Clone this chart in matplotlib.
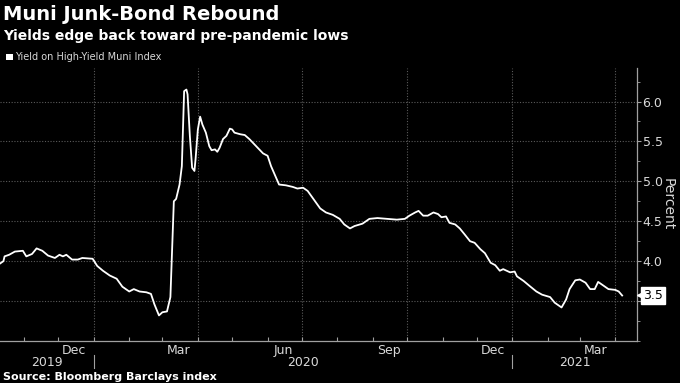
import matplotlib
matplotlib.use("Agg")
import matplotlib.pyplot as plt
import matplotlib.dates as mdates
import matplotlib.transforms as mtrans
import pandas as pd
from matplotlib.ticker import FixedLocator, MultipleLocator, NullFormatter, FuncFormatter

# Yield on High-Yield Muni Index, percent
dates = [
    "2019-10-11", "2019-10-14", "2019-10-15", "2019-10-19", "2019-10-24", "2019-10-31",
    "2019-11-03", "2019-11-08", "2019-11-12", "2019-11-17", "2019-11-22", "2019-11-28",
    "2019-12-02", "2019-12-05", "2019-12-08", "2019-12-13", "2019-12-18", "2019-12-22",
    "2019-12-31", "2020-01-04", "2020-01-09", "2020-01-15", "2020-01-21", "2020-01-26",
    "2020-02-01", "2020-02-05", "2020-02-10", "2020-02-16", "2020-02-20", "2020-02-23",
    "2020-02-27", "2020-03-01", "2020-03-05", "2020-03-08", "2020-03-11", "2020-03-13",
    "2020-03-16", "2020-03-18", "2020-03-20", "2020-03-22", "2020-03-23", "2020-03-25",
    "2020-03-27", "2020-03-29", "2020-03-30", "2020-04-01", "2020-04-03", "2020-04-05",
    "2020-04-08", "2020-04-11", "2020-04-13", "2020-04-16", "2020-04-18", "2020-04-20",
    "2020-04-23", "2020-04-26", "2020-04-29", "2020-05-01", "2020-05-03", "2020-05-08",
    "2020-05-12", "2020-05-16", "2020-05-22", "2020-05-28", "2020-06-01", "2020-06-04",
    "2020-06-07", "2020-06-11", "2020-06-17", "2020-06-23", "2020-06-27", "2020-07-02",
    "2020-07-06", "2020-07-11", "2020-07-17", "2020-07-22", "2020-07-28", "2020-08-03",
    "2020-08-07", "2020-08-12", "2020-08-16", "2020-08-23", "2020-08-29", "2020-09-05",
    "2020-09-13", "2020-09-22", "2020-09-29", "2020-10-03", "2020-10-08", "2020-10-11",
    "2020-10-15", "2020-10-19", "2020-10-24", "2020-10-28", "2020-10-31", "2020-11-04",
    "2020-11-07", "2020-11-12", "2020-11-16", "2020-11-20", "2020-11-25", "2020-11-29",
    "2020-12-04", "2020-12-08", "2020-12-13", "2020-12-17", "2020-12-21", "2020-12-24",
    "2020-12-30", "2021-01-03", "2021-01-05", "2021-01-11", "2021-01-16", "2021-01-22",
    "2021-01-27", "2021-02-03", "2021-02-07", "2021-02-13", "2021-02-17", "2021-02-20",
    "2021-02-25", "2021-03-01", "2021-03-06", "2021-03-10", "2021-03-14", "2021-03-17",
    "2021-03-22", "2021-03-26", "2021-04-01", "2021-04-04", "2021-04-07",
]
yields = [
    3.97, 4.00, 4.06, 4.08, 4.12, 4.13,
    4.06, 4.09, 4.16, 4.13, 4.07, 4.04,
    4.08, 4.06, 4.08, 4.02, 4.02, 4.04,
    4.03, 3.94, 3.88, 3.82, 3.78, 3.68,
    3.62, 3.65, 3.62, 3.61, 3.59, 3.46,
    3.32, 3.36, 3.37, 3.55, 4.75, 4.78,
    4.96, 5.19, 6.13, 6.15, 6.09, 5.57,
    5.17, 5.13, 5.28, 5.65, 5.81, 5.71,
    5.61, 5.44, 5.39, 5.40, 5.37, 5.42,
    5.53, 5.57, 5.66, 5.65, 5.61, 5.59,
    5.58, 5.53, 5.44, 5.35, 5.32, 5.19,
    5.09, 4.96, 4.95, 4.93, 4.91, 4.92,
    4.88, 4.78, 4.66, 4.61, 4.58, 4.53,
    4.46, 4.41, 4.44, 4.47, 4.53, 4.54,
    4.53, 4.52, 4.53, 4.57, 4.61, 4.63,
    4.57, 4.57, 4.61, 4.59, 4.55, 4.56,
    4.48, 4.46, 4.41, 4.34, 4.25, 4.23,
    4.15, 4.10, 3.98, 3.95, 3.88, 3.90,
    3.86, 3.87, 3.81, 3.75, 3.69, 3.62,
    3.58, 3.55, 3.48, 3.42, 3.52, 3.65,
    3.76, 3.77, 3.73, 3.65, 3.65, 3.74,
    3.69, 3.65, 3.64, 3.62, 3.57,
]
last_label = "3.5"
years = ["2019", "2020", "2021"]

x_start = pd.Timestamp("2019-10-11")
x_end = pd.Timestamp("2021-04-20")

bg = "black"
grid_c = "#5a5a5a"
axis_c = "#a0a0a0"
text_c = "#d9d9d9"

fig = plt.figure(figsize=(6.8, 3.83), dpi=100, facecolor=bg)
ax = fig.add_axes([0.0, 0.1097, 0.9368, 0.7128], facecolor=bg)

x = pd.to_datetime(dates)
ax.plot(x, yields, color="white", lw=1.3, zorder=4, solid_joinstyle="round")

ax.set_xlim(x_start, x_end)
ax.set_ylim(3.0, 6.42)

# spines
for s in ["left", "top"]:
    ax.spines[s].set_visible(False)
for s in ["bottom", "right"]:
    ax.spines[s].set_color(axis_c)
    ax.spines[s].set_linewidth(0.9)

# y axis on the right; the 3.5 label sits under the last-value box
ax.yaxis.tick_right()
ax.yaxis.set_label_position("right")
ax.yaxis.set_major_locator(FixedLocator([3.5, 4.0, 4.5, 5.0, 5.5, 6.0]))
ax.yaxis.set_minor_locator(MultipleLocator(0.25))
ax.yaxis.set_major_formatter(FuncFormatter(lambda v, p: "" if abs(v - 3.5) < 1e-6 else f"{v:.1f}"))
ax.tick_params(axis="y", which="major", colors=axis_c, labelcolor=text_c,
               length=3, width=0.8, labelsize=9, pad=1)
ax.tick_params(axis="y", which="minor", colors=axis_c, length=2, width=0.6)
ax.yaxis.grid(True, which="major", color=grid_c, ls=(0, (1, 1.5)), lw=0.8)
ax.set_ylabel("Percent", color=text_c, fontsize=10, rotation=270, labelpad=9)

# x axis: month ticks, quarter-month labels in mid-month
ax.xaxis.set_major_locator(mdates.MonthLocator())
ax.xaxis.set_major_formatter(NullFormatter())
ax.xaxis.set_minor_locator(mdates.MonthLocator(bymonth=[3, 6, 9, 12], bymonthday=15))
ax.xaxis.set_minor_formatter(mdates.DateFormatter("%b"))
ax.tick_params(axis="x", which="major", direction="in", colors=axis_c,
               length=3, width=0.8)
ax.tick_params(axis="x", which="minor", length=0, labelcolor=text_c,
               labelsize=9, pad=2)

# vertical grid at quarter starts
for q in pd.date_range(x_start, x_end, freq="QS"):
    ax.axvline(q, color=grid_c, ls=(0, (1, 1.5)), lw=0.8, zorder=1)

# year labels and separators
trans = mtrans.blended_transform_factory(ax.transData, ax.transAxes)
year_starts = pd.date_range(x_start, x_end, freq="YS")
bounds = [x_start] + list(year_starts) + [x_end]
for yr, a, b in zip(years, bounds[:-1], bounds[1:]):
    mid = a + (b - a) / 2
    ax.text(mid, -0.077, yr, transform=trans, ha="center", va="center",
            color=text_c, fontsize=9)
for ys in year_starts:
    ax.plot([ys, ys], [-0.05, -0.10], transform=trans, color=axis_c,
            lw=0.8, clip_on=False)

# last value box
vtrans = mtrans.blended_transform_factory(ax.transAxes, ax.transData)
ax.text(1.009, yields[-1], last_label, transform=vtrans,
        ha="left", va="center", color="black", fontsize=9, zorder=10,
        bbox=dict(boxstyle="square,pad=0.15", fc="white", ec="white"), clip_on=False)
ax.plot([1.004], [yields[-1]], marker="<", ms=4, color="white",
        transform=vtrans, clip_on=False, zorder=10)

# titles
fig.text(0.004, 0.962, "Muni Junk-Bond Rebound", color="white", fontsize=14,
         fontweight="bold", ha="left", va="center")
fig.text(0.004, 0.905, "Yields edge back toward pre-pandemic lows", color="white",
         fontsize=10, fontweight="bold", ha="left", va="center")
fig.patches.append(matplotlib.patches.Rectangle((0.009, 0.843), 0.0095, 0.017,
                   transform=fig.transFigure, fc="white", ec="none"))
fig.text(0.022, 0.851, "Yield on High-Yield Muni Index", color=text_c, fontsize=7,
         ha="left", va="center")
fig.text(0.004, 0.016, "Source: Bloomberg Barclays index", color="white",
         fontsize=8, fontweight="bold", ha="left", va="center")

fig.savefig("out.png", dpi=100, facecolor=bg)
